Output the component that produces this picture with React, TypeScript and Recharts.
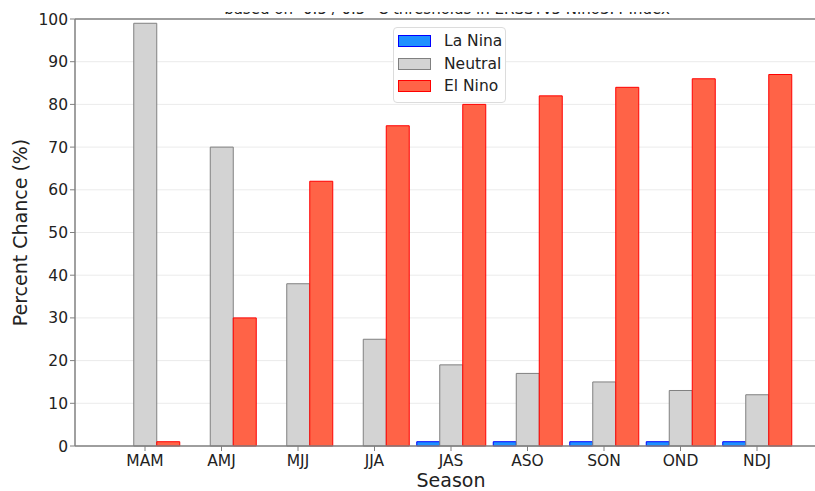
import React from "react";
import { Bar, BarChart, CartesianGrid, ReferenceLine, XAxis, YAxis } from "recharts";

const seasons = ["MAM", "AMJ", "MJJ", "JJA", "JAS", "ASO", "SON", "OND", "NDJ"];
const laNina = [0, 0, 0, 0, 1, 1, 1, 1, 1];
const neutral = [99, 70, 38, 25, 19, 17, 15, 13, 12];
const elNino = [1, 30, 62, 75, 80, 82, 84, 86, 87];
const yTicks = [0, 10, 20, 30, 40, 50, 60, 70, 80, 90, 100];

const series = [
  { key: "laNina", name: "La Nina", fill: "#1e90ff", stroke: "#0000ff" },
  { key: "neutral", name: "Neutral", fill: "#d3d3d3", stroke: "#808080" },
  { key: "elNino", name: "El Nino", fill: "#ff6347", stroke: "#ff0000" },
];

const data = seasons.map((season, i) => ({
  season,
  laNina: laNina[i],
  neutral: neutral[i],
  elNino: elNino[i],
}));

const font = "'DejaVu Sans', sans-serif";

function LegendBox() {
  return (
    <div
      style={{
        position: "absolute",
        left: 393,
        top: 27,
        width: 111,
        height: 74,
        border: "1px solid #dcdcdc",
        borderRadius: 4,
        background: "#fff",
        fontFamily: font,
        fontSize: 15.5,
        color: "#222",
      }}
    >
      {series.map((s, i) => (
        <div key={s.key} style={{ position: "absolute", left: 4, top: 4 + i * 22.5, height: 18, display: "flex", alignItems: "center" }}>
          <span style={{ display: "inline-block", width: 31, height: 10, background: s.fill, border: `1px solid ${s.stroke}` }} />
          <span style={{ marginLeft: 13 }}>{s.name}</span>
        </div>
      ))}
    </div>
  );
}

export default function App() {
  return (
    <div style={{ position: "absolute", top: 0, left: 0, width: 815, height: 491, overflow: "hidden", background: "#fff" }}>
      <BarChart
        width={830}
        height={491}
        data={data}
        margin={{ top: 19, right: 3, bottom: 0, left: 0 }}
        barSize={23}
        barGap={0}
        style={{ fontFamily: font }}
      >
        <CartesianGrid vertical={false} stroke="#ebebeb" />
        <XAxis
          dataKey="season"
          height={45}
          padding={{ left: 31.75, right: 31.75 }}
          tick={{ fontSize: 15.5, fill: "#222" }}
          tickSize={5}
          tickMargin={4}
          tickLine={{ stroke: "#808080" }}
          axisLine={{ stroke: "#808080", strokeWidth: 1.5 }}
          label={{ value: "Season", position: "insideBottom", offset: 4, fontSize: 19, fill: "#222" }}
        />
        <YAxis
          width={75}
          domain={[0, 100]}
          ticks={yTicks}
          interval={0}
          tick={{ fontSize: 15.5, fill: "#222" }}
          tickSize={5}
          tickLine={{ stroke: "#808080" }}
          axisLine={{ stroke: "#808080", strokeWidth: 1.5 }}
          label={{
            value: "Percent Chance (%)",
            angle: -90,
            position: "insideLeft",
            offset: 20,
            fontSize: 19,
            fill: "#222",
            style: { textAnchor: "middle" },
          }}
        />
        <ReferenceLine y={100} stroke="#808080" strokeWidth={1.5} />
        {series.map((s) => (
          <Bar
            key={s.key}
            dataKey={s.key}
            name={s.name}
            fill={s.fill}
            stroke={s.stroke}
            strokeWidth={1}
            isAnimationActive={false}
          />
        ))}
      </BarChart>
      <div style={{ position: "absolute", top: 12, left: 0, width: 815, height: 3, overflow: "hidden" }}>
        <div
          style={{
            position: "absolute",
            top: -10.2,
            left: 0,
            width: 894,
            textAlign: "center",
            fontFamily: font,
            fontSize: 15,
            lineHeight: "15px",
            color: "#222",
            whiteSpace: "nowrap",
          }}
        >
          based on -0.5 / 0.5 °C thresholds in ERSSTv5 Niño3.4 Index
        </div>
      </div>
      <LegendBox />
    </div>
  );
}
